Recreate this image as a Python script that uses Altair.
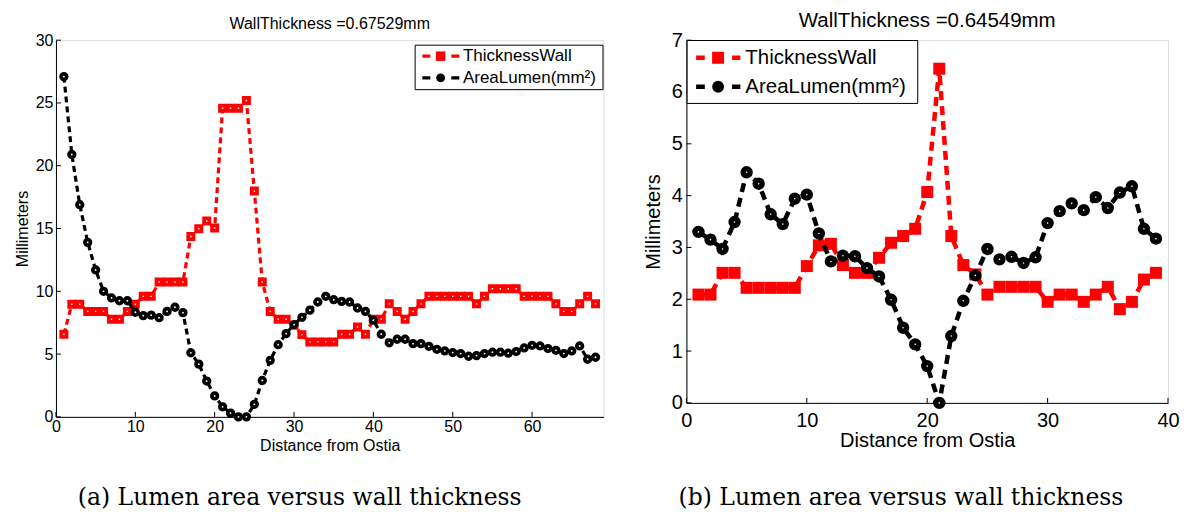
import altair as alt
import pandas as pd

# ---------------- data ----------------
dist_a = list(range(1, 69))
thickness_a = [6.58, 8.97, 8.97, 8.4, 8.4, 8.4, 7.77, 7.77, 8.4, 8.97,
               9.6, 9.6, 10.74, 10.74, 10.74, 10.74, 14.37, 14.98, 15.6, 15.04,
               24.58, 24.58, 24.58, 25.2, 17.98, 10.74, 8.4, 7.77, 7.77, 7.3,
               6.55, 5.97, 5.97, 5.97, 5.97, 6.58, 6.58, 7.16, 6.58, 7.77,
               7.77, 9.0, 8.4, 7.77, 8.4, 9.0, 9.6, 9.6, 9.6, 9.6,
               9.6, 9.6, 9.0, 9.6, 10.2, 10.2, 10.2, 10.2, 9.6, 9.6,
               9.6, 9.6, 9.0, 8.4, 8.4, 9.0, 9.6, 9.0]
area_a = [27.1, 20.9, 16.9, 13.9, 11.7, 10.0, 9.47, 9.25, 9.25, 8.33,
          8.06, 8.1, 7.9, 8.4, 8.73, 8.3, 5.1, 4.2, 2.85, 1.67,
          0.8, 0.3, 0.0, 0.0, 1.0, 2.9, 4.5, 5.75, 6.63, 7.35,
          7.93, 8.5, 9.15, 9.6, 9.33, 9.2, 9.15, 8.67, 8.4, 7.7,
          6.58, 5.9, 6.18, 6.18, 5.83, 5.83, 5.62, 5.38, 5.25, 5.12,
          5.04, 4.83, 4.88, 5.04, 5.15, 5.15, 5.07, 5.2, 5.49, 5.7,
          5.65, 5.44, 5.3, 5.04, 5.25, 5.65, 4.59, 4.75]

dist_b = list(range(1, 40))
thickness_b = [2.09, 2.09, 2.51, 2.51, 2.22, 2.22, 2.22, 2.22, 2.22, 2.64,
               3.04, 3.07, 2.66, 2.51, 2.51, 2.8, 3.09, 3.22, 3.36, 4.07,
               6.45, 3.22, 2.66, 2.48, 2.09, 2.24, 2.24, 2.24, 2.24, 1.95,
               2.09, 2.09, 1.95, 2.09, 2.24, 1.81, 1.95, 2.38, 2.51]
area_b = [3.30, 3.15, 2.97, 3.49, 4.45, 4.23, 3.64, 3.45, 3.94, 4.02,
          3.27, 2.73, 2.84, 2.83, 2.6, 2.44, 1.99, 1.45, 1.13, 0.71,
          0.0, 1.29, 1.97, 2.46, 2.97, 2.77, 2.82, 2.70, 2.81, 3.47,
          3.70, 3.85, 3.72, 3.97, 3.76, 4.06, 4.18, 3.36, 3.17]

xticks_a = [0, 10, 20, 30, 40, 50, 60]
yticks_a = [0, 5, 10, 15, 20, 25, 30]
xticks_b = [0, 10, 20, 30, 40]
yticks_b = [0, 1, 2, 3, 4, 5, 6, 7]

titles = ["WallThickness =0.67529mm", "WallThickness =0.64549mm"]
captions = ["(a) Lumen area versus wall thickness", "(b) Lumen area versus wall thickness"]
series_names = ["ThicknessWall", "AreaLumen(mm\u00b2)"]
x_title = "Distance from Ostia"
y_title = "Millimeters"

RED = "#ff0000"
BLACK = "#000000"
FONT = "Liberation Sans"
SERIF = "DejaVu Serif"


def panel(dist, thick, area, xmax, ymax, xticks, yticks, title, caption, st):
    W, H = st["W"], st["H"]
    df = pd.DataFrame({"d": dist, "t": thick, "a": area})
    xs = alt.Scale(domain=[0, xmax], nice=False, zero=False)
    ys = alt.Scale(domain=[0, ymax], nice=False)
    xaxis = alt.Axis(values=xticks, title=x_title, tickSize=0, grid=False,
                     labelFontSize=st["fs_lab"], titleFontSize=st["fs_ax"],
                     labelPadding=st["xlp"], titlePadding=st["xtp"],
                     labelFont=FONT, titleFont=FONT, titleFontWeight="normal",
                     domainColor=BLACK, labelColor=BLACK, titleColor=BLACK,
                     labelFlush=False)
    yaxis = alt.Axis(values=yticks, title=y_title, tickSize=0, grid=False,
                     labelFontSize=st["fs_lab"], titleFontSize=st["fs_ax"],
                     labelPadding=st["ylp"], titlePadding=st["ytp"],
                     labelFont=FONT, titleFont=FONT, titleFontWeight="normal",
                     domainColor=BLACK, labelColor=BLACK, titleColor=BLACK,
                     labelFlush=False)

    def X(f):
        return alt.X(f, type="quantitative", scale=xs, axis=xaxis)

    def Y(f):
        return alt.Y(f, type="quantitative", scale=ys, axis=yaxis)

    base = alt.Chart(df)
    red_line = base.mark_line(color=RED, strokeWidth=st["lw"], strokeDash=st["dash"]).encode(x=X("d"), y=Y("t"))
    red_pts = base.mark_point(**st["sq"]).encode(x=X("d"), y=Y("t"))
    blk_line = base.mark_line(color=BLACK, strokeWidth=st["lw"], strokeDash=st["dash"]).encode(x=X("d"), y=Y("a"))
    blk_pts = base.mark_point(**st["ci"]).encode(x=X("d"), y=Y("a"))

    xt = alt.Chart(pd.DataFrame({"v": xticks})).mark_rule(color=BLACK, strokeWidth=1).encode(
        x=X("v"), y=alt.value(H), y2=alt.value(H - 5))
    yt = alt.Chart(pd.DataFrame({"v": yticks})).mark_rule(color=BLACK, strokeWidth=1).encode(
        y=Y("v"), x=alt.value(0), x2=alt.value(5))

    one = alt.Chart(pd.DataFrame({"k": [0]}))
    lg = st["lg"]
    layers = [red_line, red_pts, blk_line, blk_pts, xt, yt]
    layers.append(one.mark_rect(fill="white", stroke=BLACK, strokeWidth=1).encode(
        x=alt.value(lg["x0"]), x2=alt.value(lg["x1"]), y=alt.value(lg["y0"]), y2=alt.value(lg["y1"])))
    for i, (name, col) in enumerate(zip(series_names, [RED, BLACK])):
        ry = lg["rows"][i]
        layers.append(one.mark_rule(color=col, strokeWidth=st["lw"], strokeDash=lg["dash"]).encode(
            x=alt.value(lg["lx0"]), x2=alt.value(lg["lx1"]), y=alt.value(ry)))
        shape = "square" if i == 0 else "circle"
        size = lg["sqsize"] if i == 0 else lg["cisize"]
        layers.append(one.mark_point(shape=shape, filled=True, color=col, opacity=1, size=size).encode(
            x=alt.value(lg["sx"]), y=alt.value(ry)))
        layers.append(one.mark_text(text=name, align="left", baseline="middle", font=FONT,
                                    fontSize=lg["fs"], color=BLACK).encode(
            x=alt.value(lg["tx"]), y=alt.value(ry)))
    layers.append(one.mark_text(text=caption, align="center", baseline="middle", font=SERIF,
                                fontSize=st["fs_cap"], color=BLACK).encode(
        x=alt.value(st["cap_x"]), y=alt.value(st["cap_y"])))

    return alt.layer(*layers).properties(
        width=W, height=H,
        title=alt.TitleParams(title, font=FONT, fontSize=st["fs_title"], fontWeight="normal",
                              color=BLACK, anchor="middle", offset=st["toff"]))


style_a = dict(W=548, H=377, fs_lab=16, fs_ax=16, fs_title=16, fs_cap=23.5,
               xlp=2, xtp=3, ylp=3, ytp=5, lw=3.2, dash=[6, 4], toff=0,
               sq=dict(shape="square", filled=True, fill="white", stroke=RED, strokeWidth=3.8, size=27, opacity=1),
               ci=dict(shape="circle", filled=True, fill="white", stroke=BLACK, strokeWidth=3.75, size=31, opacity=1),
               lg=dict(x0=359.5, x1=547.5, y0=5, y1=49.5, rows=[16, 37.7], lx0=366.7, lx1=403.7,
                       dash=[8, 21], sx=385, tx=407.3, fs=17, sqsize=90, cisize=80),
               cap_x=244, cap_y=458)

style_b = dict(W=482, H=363, fs_lab=20, fs_ax=20, fs_title=20.5, fs_cap=23.5,
               xlp=8, xtp=0, ylp=4, ytp=8, lw=4.5, dash=[9, 6], toff=-1,
               sq=dict(shape="square", filled=True, color=RED, size=144, opacity=1, strokeWidth=0),
               ci=dict(shape="circle", filled=True, fill="white", stroke=BLACK, strokeWidth=5.4, size=49, opacity=1),
               lg=dict(x0=0.7, x1=231.5, y0=0.3, y1=63.3, rows=[17.6, 46.6], lx0=9.7, lx1=54,
                       dash=[8.7, 27.3], sx=31.7, tx=59, fs=20.5, sqsize=144, cisize=140),
               cap_x=214.7, cap_y=458)

left = panel(dist_a, thickness_a, area_a, 69, 30, xticks_a, yticks_a, titles[0], captions[0], style_a)
right = panel(dist_b, thickness_b, area_b, 40, 7, xticks_b, yticks_b, titles[1], captions[1], style_b)

chart = alt.hconcat(left, right, spacing=36).properties(
    padding={"left": 5, "top": 2, "right": 0, "bottom": 0}
).configure_view(stroke=None).configure(background="white")

chart.save("out.html", embed_options={"renderer": "svg", "actions": False})
